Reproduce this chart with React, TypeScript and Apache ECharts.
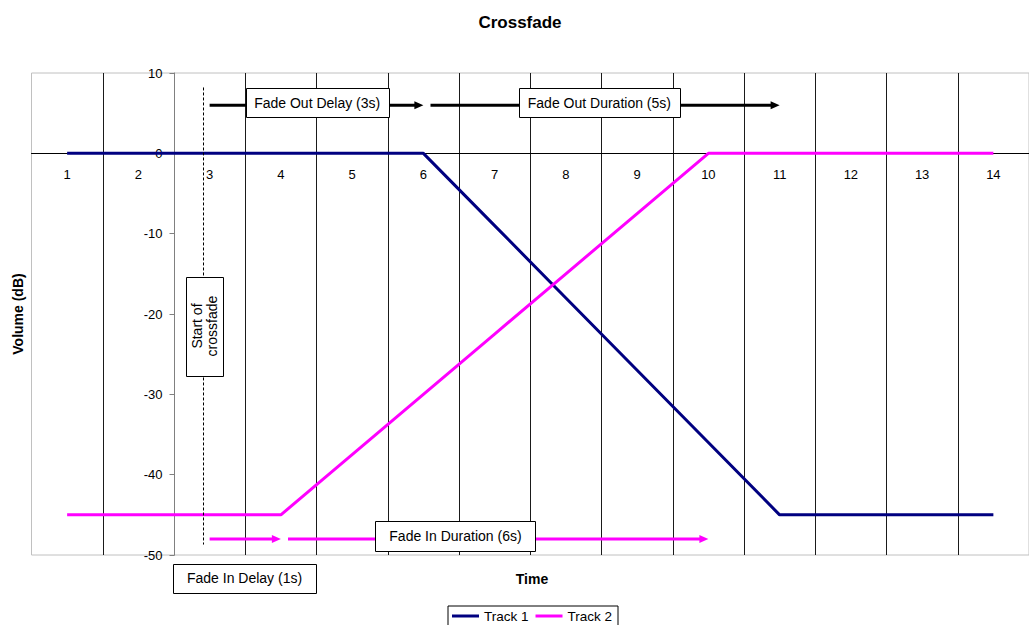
import React, { useEffect, useRef } from "react";
import * as echarts from "echarts";

// ---- data ----
const categories = ["1", "2", "3", "4", "5", "6", "7", "8", "9", "10", "11", "12", "13", "14"];
const track1 = [0, 0, 0, 0, 0, 0, -9, -18, -27, -36, -45, -45, -45, -45];
const track2 = [-45, -45, -45, -45, -37.5, -30, -22.5, -15, -7.5, 0, 0, 0, 0, 0];
const yMin = -50;
const yMax = 10;
const yStep = 10;
const seriesNames = ["Track 1", "Track 2"];

// annotation texts
const annotationTexts = ["Fade Out Delay (3s)", "Fade Out Duration (5s)", "Fade In Duration (6s)", "Fade In Delay (1s)"];
const startText = "Start of\ncrossfade";
// arrows in data units: [from time, to time, dB]
const arrowFrom = [3, 6.1, 3, 4.1];
const arrowTo = [6, 11, 4, 10];
const arrowDb = [6, 6, -48, -48];
// annotation anchors (data units)
const annotationTime = [4.51, 8.47, 6.45, 3.49];
const annotationDb = [6.3, 6.3, -47.6, -52.9];
const startTime = 2.9;
const startDbTop = 8.2;
const startDbBottom = -48.7;
const startLabelTime = 2.93;
const startLabelDb = -21.5;

const FONT = "'Liberation Sans', Arial, sans-serif";
const C1 = "#000080";
const C2 = "#FF00FF";

export default function App() {
  const ref = useRef<HTMLDivElement>(null);

  useEffect(() => {
    if (!ref.current) return;
    const chart = echarts.init(ref.current, undefined, { renderer: "svg" });
    const gridW = 1001;
    const gridH = 482;
    const catW = gridW / categories.length;
    const splitColors = categories.map(() => "#1a1a1a");
    splitColors.push("#1a1a1a");
    splitColors[0] = "#c0c0c0";
    splitColors[2] = "#808080";
    const zeroOffset = ((0 - yMin) / (yMax - yMin)) * gridH;

    chart.setOption({
      animation: false,
      backgroundColor: "#ffffff",
      textStyle: { fontFamily: FONT },
      grid: {
        left: 31.5,
        top: 73,
        width: gridW,
        height: gridH,
        show: true,
        borderColor: "#c0c0c0",
        borderWidth: 1,
        containLabel: false,
      },
      legend: {
        data: seriesNames,
        left: 448,
        top: 606,
        icon: "rect",
        itemWidth: 27,
        itemHeight: 3,
        itemGap: 7,
        padding: [3, 6, 3, 4],
        borderColor: "#000",
        borderWidth: 1,
        textStyle: { fontSize: 13.5, color: "#000", fontFamily: FONT },
      },
      xAxis: {
        type: "category",
        data: categories,
        boundaryGap: true,
        position: "bottom",
        offset: -zeroOffset,
        axisLine: { onZero: false, lineStyle: { color: "#000", width: 1 } },
        axisTick: { show: false },
        axisLabel: { interval: 0, margin: 15, fontSize: 13, color: "#000", fontFamily: FONT },
        splitLine: { show: true, interval: 0, lineStyle: { color: splitColors, width: 1 } },
      },
      yAxis: {
        type: "value",
        min: yMin,
        max: yMax,
        interval: yStep,
        offset: -2 * catW,
        axisLine: { show: true, onZero: false, lineStyle: { color: "#808080", width: 1 } },
        axisTick: { show: true, inside: false, length: 5, lineStyle: { color: "#808080" } },
        axisLabel: { margin: 12, fontSize: 13, color: "#000", fontFamily: FONT },
        splitLine: { show: false },
      },
      series: [
        {
          name: seriesNames[0],
          type: "line",
          data: track1,
          symbol: "none",
          lineStyle: { color: C1, width: 3 },
          itemStyle: { color: C1 },
          z: 3,
        },
        {
          name: seriesNames[1],
          type: "line",
          data: track2,
          symbol: "none",
          lineStyle: { color: C2, width: 3 },
          itemStyle: { color: C2 },
          z: 3,
        },
      ],
    });

    const p0 = chart.convertToPixel({ xAxisIndex: 0 }, 0) as number;
    const p1 = chart.convertToPixel({ xAxisIndex: 0 }, 1) as number;
    const X = (v: number) => p0 + (v - 1) * (p1 - p0);
    const Y = (v: number) => chart.convertToPixel({ yAxisIndex: 0 }, v) as number;

    const arrowColors = ["#000000", "#000000", C2, C2];
    const boxW = [143, 161, 160, 143];
    const boxH = [29, 29, 30, 29];
    const graphics: any[] = [];

    // title and axis names
    graphics.push({
      type: "text",
      x: 520,
      y: 22,
      z: 50,
      style: { text: "Crossfade", align: "center", verticalAlign: "middle", font: `bold 17px ${FONT}`, fill: "#000" },
    });
    graphics.push({
      type: "text",
      x: 532,
      y: 579,
      z: 50,
      style: { text: "Time", align: "center", verticalAlign: "middle", font: `bold 14px ${FONT}`, fill: "#000" },
    });
    graphics.push({
      type: "text",
      x: 18,
      y: 314,
      rotation: Math.PI / 2,
      z: 50,
      style: { text: "Volume (dB)", align: "center", verticalAlign: "middle", font: `bold 14px ${FONT}`, fill: "#000" },
    });

    // start of crossfade dashed line
    graphics.push({
      type: "line",
      z: 40,
      shape: { x1: Math.round(X(startTime)) + 0.5, y1: Y(startDbTop), x2: Math.round(X(startTime)) + 0.5, y2: Y(startDbBottom) },
      style: { stroke: "#000", lineWidth: 1, lineDash: [3, 2] },
    });

    // arrows
    arrowFrom.forEach((f, i) => {
      const x1 = X(f);
      const x2 = X(arrowTo[i]);
      const y = Y(arrowDb[i]);
      const head = 9;
      graphics.push({
        type: "line",
        z: 40,
        shape: { x1, y1: y, x2: x2 - head + 1, y2: y },
        style: { stroke: arrowColors[i], lineWidth: 3 },
      });
      graphics.push({
        type: "polygon",
        z: 40,
        shape: { points: [[x2, y], [x2 - head, y - 4], [x2 - head, y + 4]] },
        style: { fill: arrowColors[i] },
      });
    });

    // text boxes
    annotationTexts.forEach((t, i) => {
      const cx = X(annotationTime[i]);
      const cy = Y(annotationDb[i]);
      graphics.push({
        type: "rect",
        z: 45,
        shape: { x: Math.round(cx - boxW[i] / 2) + 0.5, y: Math.round(cy - boxH[i] / 2) + 0.5, width: boxW[i], height: boxH[i] },
        style: { fill: "#fff", stroke: "#000", lineWidth: 1 },
      });
      graphics.push({
        type: "text",
        z: 46,
        x: cx,
        y: cy,
        style: { text: t, align: "center", verticalAlign: "middle", font: `14px ${FONT}`, fill: "#000" },
      });
    });

    // vertical start label
    {
      const cx = X(startLabelTime);
      const cy = Y(startLabelDb);
      const w = 37;
      const h = 99;
      graphics.push({
        type: "rect",
        z: 45,
        shape: { x: Math.round(cx - w / 2) + 0.5, y: Math.round(cy - h / 2) + 0.5, width: w, height: h },
        style: { fill: "#fff", stroke: "#000", lineWidth: 1 },
      });
      graphics.push({
        type: "text",
        z: 46,
        x: cx,
        y: cy,
        rotation: Math.PI / 2,
        style: { text: startText, align: "center", verticalAlign: "middle", font: `14px ${FONT}`, lineHeight: 15, fill: "#000" },
      });
    }

    chart.setOption({ graphic: graphics });

    return () => chart.dispose();
  }, []);

  return (
    <div
      ref={ref}
      style={{ position: "fixed", left: 0, top: 0, width: 1029, height: 625, background: "#fff" }}
    />
  );
}
